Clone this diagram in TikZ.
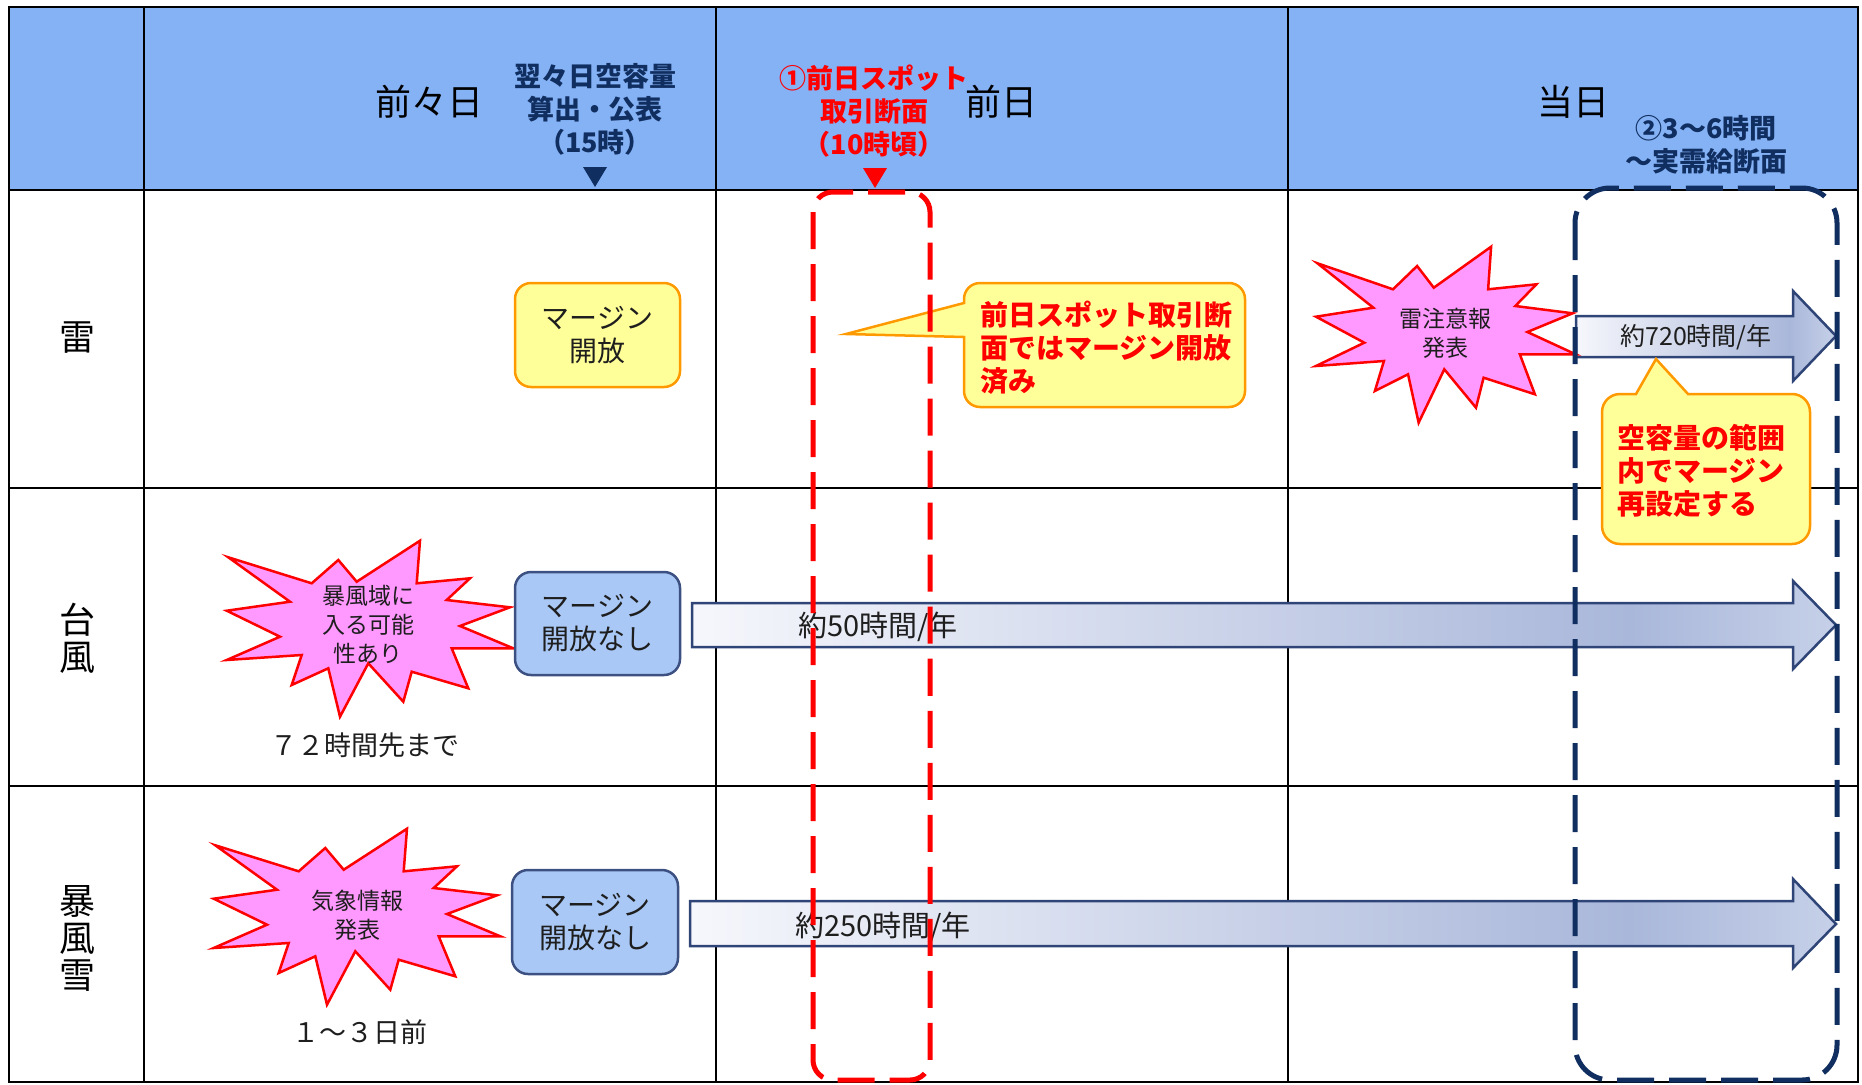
\documentclass[tikz,border=0pt]{standalone}
\usepackage{fontspec}
\setmainfont{Noto Sans CJK JP}
\definecolor{hdr}{RGB}{133,178,245}
\definecolor{navy}{RGB}{16,46,96}
\definecolor{ored}{RGB}{255,0,0}
\definecolor{yfill}{RGB}{255,255,153}
\definecolor{orng}{RGB}{255,153,0}
\definecolor{bfill}{RGB}{170,200,245}
\definecolor{bline}{RGB}{60,80,130}
\definecolor{pink}{RGB}{255,153,255}
\definecolor{aline}{RGB}{47,69,120}
\definecolor{aleft}{RGB}{246,247,252}
\definecolor{aright}{RGB}{169,183,218}
\definecolor{aend}{RGB}{198,208,232}
\definecolor{dtxt}{RGB}{30,30,30}
\pgfdeclarehorizontalshading{arrshade}{100bp}{color(0bp)=(aleft); color(25bp)=(aleft); color(66bp)=(aright); color(75bp)=(aend); color(100bp)=(aend)}
\newcommand\fsz[2]{\fontsize{#1pt}{#2pt}\selectfont}
\begin{document}
\begin{tikzpicture}[x=1pt,y=-1pt,
  grid/.style={line width=2pt, draw=black},
  hdrtxt/.style={inner sep=0pt, font=\fsz{36}{40}},
  rowtxt/.style={inner sep=0pt, align=center, font=\fsz{36}{37}},
  navytxt/.style={inner sep=0pt, align=center, text=navy, font=\fsz{27}{33}\bfseries},
  redtxt/.style={inner sep=0pt, align=center, text=ored, font=\fsz{27}{33}\bfseries},
  ybox/.style={draw=orng, fill=yfill, line width=2.5pt, rounded corners=16pt, align=center, font=\fsz{28}{33}, text=dtxt, inner sep=0pt},
  bbox/.style={draw=bline, fill=bfill, line width=2.5pt, rounded corners=16pt, align=center, font=\fsz{28}{33}, text=dtxt, inner sep=0pt},
  startxt/.style={inner sep=0pt, align=center, font=\fsz{23}{29}, text=dtxt},
  starst/.style={draw=ored, fill=pink, line width=2.5pt},
  arrowst/.style={draw=aline, line width=2.5pt, shading=arrshade},
  callout/.style={draw=orng, fill=yfill, line width=2.5pt},
  calltxt/.style={inner sep=0pt, align=left, text=ored, font=\fsz{28}{33}\bfseries},
  arrtxt/.style={inner sep=0pt, text=dtxt, font=\fsz{29}{33}},
  notetxt/.style={inner sep=0pt, text=dtxt, font=\fsz{27}{33}},
  redbox/.style={draw=ored, line width=5pt, dash pattern=on 37pt off 15pt, rounded corners=20pt},
  navybox/.style={draw=navy, line width=5pt, dash pattern=on 37pt off 15pt, rounded corners=35pt},
  burst/.pic={\path[pic actions] (-139.7,-71.7) -- (-56.3,-45.7) -- (-29.7,-69) -- (-11.3,-47.3) -- (52,-88.3) -- (48.7,-45.7) -- (102,-50.7) -- (78.7,-29) -- (142,-21.7) -- (92,-3) -- (145.3,19.3) -- (83.7,19.3) -- (100.3,59.3) -- (43.7,42.7) -- (35.3,72.7) -- (0.3,34.3) -- (-28,87.7) -- (-39.7,39.3) -- (-76.3,56) -- (-66.3,26) -- (-141.3,31) -- (-88,7.7) -- (-141.3,-18.3) -- (-78,-27.3) -- cycle;}
]
\useasboundingbox (0,0) rectangle (1862,1084);
\fill[white] (0,0) rectangle (1862,1084);
% table
\fill[hdr] (9,7) rectangle (1858,190);
\draw[grid] (9,7) rectangle (1858,1082);
\draw[grid] (9,190) -- (1858,190);
\draw[grid] (9,488) -- (1858,488);
\draw[grid] (9,786) -- (1858,786);
\draw[grid] (144,7) -- (144,1082);
\draw[grid] (716,7) -- (716,1082);
\draw[grid] (1288,7) -- (1288,1082);
% header texts
\node[hdrtxt] (h1) at (429,102) {前々日};
\node[hdrtxt] (h2) at (1001,102) {前日};
\node[hdrtxt] (h3) at (1573,102) {当日};
\node[navytxt] (n1) at (595,109) {翌々日空容量\\算出・公表\\（15時）};
\fill[navy] (583,167) -- (607,167) -- (595,187) -- cycle;
\node[redtxt] (r1) at (874,111) {①前日スポット\\取引断面\\（10時頃）};
\fill[ored] (863,168) -- (887,168) -- (875,188) -- cycle;
\node[navytxt] (n2) at (1706,145) {②3～6時間\\～実需給断面};
% row labels
\node[rowtxt] (k1) at (77,338) {雷};
\node[rowtxt] (k2) at (77,638) {台\\風};
\node[rowtxt] (k3) at (77,938) {暴\\風\\雪};
% row 1
\node[ybox, minimum width=165pt, minimum height=104pt] (m1) at (597.5,335) {マージン\\開放};
\draw[callout] (846,334) -- (964,303) [rounded corners=16pt] -- (964,283) -- (1245,283) -- (1245,407) -- (964,407) [sharp corners] -- (964,337) -- cycle;
\node[calltxt, anchor=west] (c1) at (980,348) {前日スポット取引断\\面ではマージン開放\\済み};
\shadedraw[arrowst] (1576,316) -- (1793,316) -- (1793,291) -- (1836,336) -- (1793,381) -- (1793,357) -- (1576,357) -- cycle;
\node[inner sep=0pt, text=dtxt, font=\fsz{25}{30}] (a1) at (1696,337) {約720時間/年};
\pic[starst, xscale=0.906] at (1444,335) {burst};
\node[startxt] (s3) at (1445,333) {雷注意報\\発表};
\draw[callout] (1656,359) -- (1688,394) [rounded corners=18pt] -- (1810,394) -- (1810,544) -- (1602,544) -- (1602,394) [sharp corners] -- (1636,394) -- cycle;
\node[calltxt, anchor=west] (c2) at (1617,471) {空容量の範囲\\内でマージン\\再設定する};
% row 2
\pic[starst] at (368,629) {burst};
\node[startxt] (s1) at (368,625) {暴風域に\\入る可能\\性あり};
\node[notetxt] (t1) at (365,745) {７２時間先まで};
\node[bbox, minimum width=165pt, minimum height=103pt] (m2) at (597.5,623.5) {マージン\\開放なし};
\shadedraw[arrowst] (692,603) -- (1793,603) -- (1793,581) -- (1836,625) -- (1793,669) -- (1793,647) -- (692,647) -- cycle;
\node[arrtxt, anchor=west] (a2) at (798,627) {約50時間/年};
% row 3
\pic[starst] at (355,917) {burst};
\node[startxt] (s2) at (357,915) {気象情報\\発表};
\node[notetxt] (t2) at (360,1032) {１～３日前};
\node[bbox, minimum width=166pt, minimum height=104pt] (m3) at (595,922) {マージン\\開放なし};
\shadedraw[arrowst] (690,901) -- (1793,901) -- (1793,879) -- (1836,924) -- (1793,968) -- (1793,946) -- (690,946) -- cycle;
\node[arrtxt, anchor=west] (a3) at (795,927) {約250時間/年};
% dashed sections
\draw[redbox] (813,192) rectangle (930,1080);
\draw[navybox] (1575,188) rectangle (1837,1080);
\end{tikzpicture}
\end{document}
